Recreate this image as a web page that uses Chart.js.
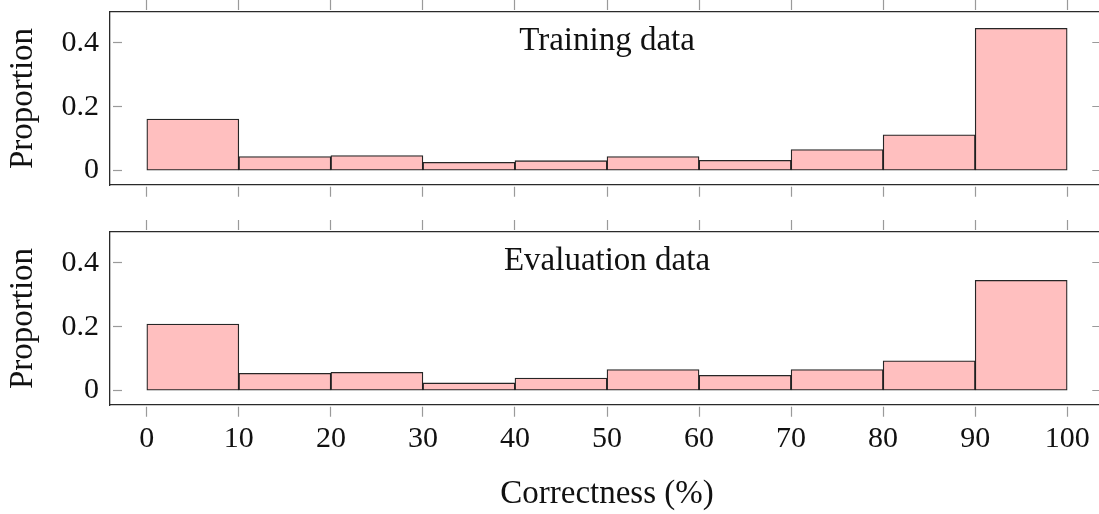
<!DOCTYPE html>
<html>
<head>
<meta charset="utf-8">
<script src="https://cdn.jsdelivr.net/npm/chart.js@4.4.1/dist/chart.umd.min.js"></script>
<style>
html, body { margin: 0; padding: 0; background: #fff; overflow: hidden; }
#wrap { position: relative; width: 1099px; height: 514px; overflow: hidden; background: #fff; }
canvas { position: absolute; left: 0; }
#c1 { top: 0; }
#c2 { top: 220px; }
</style>
</head>
<body>
<div id="wrap">
  <canvas id="c1" width="1110" height="220"></canvas>
  <canvas id="c2" width="1110" height="294"></canvas>
</div>
<script>
// ---- data ----
const binStarts = [0, 10, 20, 30, 40, 50, 60, 70, 80, 90];
const trainingValues = [0.161, 0.044, 0.047, 0.026, 0.031, 0.044, 0.032, 0.066, 0.112, 0.445];
const evaluationValues = [0.208, 0.054, 0.057, 0.024, 0.039, 0.066, 0.048, 0.066, 0.093, 0.345];
const panelTitles = ['Training data', 'Evaluation data'];
const xTickValues = [0, 10, 20, 30, 40, 50, 60, 70, 80, 90, 100];
const xTickLabels = ['0', '10', '20', '30', '40', '50', '60', '70', '80', '90', '100'];
const yTickValues = [0, 0.2, 0.4];
const yTickLabels = ['0', '0.2', '0.4'];
const xAxisTitle = 'Correctness (%)';
const yAxisTitle = 'Proportion';
const xLimits = [-4, 104];
const yLimits = [-0.045, 0.496];

// ---- styling ----
const FONT = "'Liberation Serif', 'Times New Roman', serif";
const BORDER = '#2a2a2a';
const TICK = '#9a9a9a';
const FILL = 'rgb(255,191,191)';
const TEXT = '#111111';

const insideTitle = {
  id: 'insideTitle',
  afterDatasetsDraw(chart, args, opts) {
    const { ctx, chartArea } = chart;
    ctx.save();
    ctx.font = '33px ' + FONT;
    ctx.fillStyle = TEXT;
    ctx.textAlign = 'center';
    ctx.textBaseline = 'alphabetic';
    ctx.fillText(opts.text, (chartArea.left + chartArea.right) / 2, chartArea.top + opts.offset);
    ctx.restore();
  }
};

function fix(prop, size) {
  return s => {
    s[prop] = size;
    s.paddingTop = 0; s.paddingBottom = 0; s.paddingLeft = 0; s.paddingRight = 0;
  };
}
const setXTicks = s => { s.ticks = xTickValues.map(v => ({ value: v })); };
const setYTicks = s => { s.ticks = yTickValues.map(v => ({ value: v })); };

function makePanel(id, title, values, showX, bottomHeight) {
  const binWidth = binStarts[1] - binStarts[0];
  const data = binStarts.map((b, i) => ({ x: b + binWidth / 2, y: values[i] }));
  const border = { display: true, color: BORDER, width: 1.3 };
  return new Chart(document.getElementById(id), {
    type: 'bar',
    data: {
      datasets: [{
        data: data,
        backgroundColor: FILL,
        borderColor: 'rgba(0,0,0,0.85)',
        borderWidth: 1.3,
        borderSkipped: false,
        barPercentage: 1,
        categoryPercentage: 1,
        xAxisID: 'x',
        yAxisID: 'y'
      }]
    },
    plugins: [insideTitle],
    options: {
      responsive: false,
      animation: false,
      devicePixelRatio: 1,
      layout: { autoPadding: false, padding: { left: 0, right: 6, top: 0, bottom: 0 } },
      plugins: {
        legend: { display: false },
        tooltip: { enabled: false },
        insideTitle: { text: title, offset: 38 }
      },
      scales: {
        x: {
          type: 'linear', position: 'bottom', min: xLimits[0], max: xLimits[1], offset: false,
          afterBuildTicks: setXTicks,
          afterFit: fix('height', bottomHeight),
          grid: { offset: false, drawOnChartArea: false, drawTicks: true, tickLength: 12, tickColor: TICK, tickWidth: 1.2, tickBorderDash: [0, 1.5, 10, 100] },
          border: border,
          ticks: {
            display: showX, autoSkip: false, maxRotation: 0, padding: 4, color: TEXT,
            font: { family: FONT, size: 30 },
            callback: v => xTickLabels[xTickValues.indexOf(v)]
          },
          title: { display: showX, text: xAxisTitle, color: TEXT, font: { family: FONT, size: 33, lineHeight: 1.2 }, padding: { top: 0, bottom: 0 } }
        },
        xTop: {
          type: 'linear', axis: 'x', position: 'top', min: xLimits[0], max: xLimits[1], offset: false,
          afterBuildTicks: setXTicks,
          afterFit: fix('height', 12),
          grid: { offset: false, drawOnChartArea: false, drawTicks: true, tickLength: 12, tickColor: TICK, tickWidth: 1.2, tickBorderDash: [10, 100] },
          border: border,
          ticks: { display: false }
        },
        y: {
          type: 'linear', position: 'left', min: yLimits[0], max: yLimits[1],
          afterBuildTicks: setYTicks,
          afterFit: fix('width', 110),
          grid: { drawOnChartArea: false, drawTicks: true, tickLength: -12, tickColor: TICK, tickWidth: 1.2, tickBorderDash: [9, 100] },
          border: border,
          ticks: {
            padding: 23, color: TEXT, font: { family: FONT, size: 30 },
            callback: v => yTickLabels[yTickValues.indexOf(v)]
          },
          title: { display: true, text: yAxisTitle, color: TEXT, font: { family: FONT, size: 33, lineHeight: 1.2 }, padding: { top: 4, bottom: 0 } }
        },
        yRight: {
          type: 'linear', axis: 'y', position: 'right', min: yLimits[0], max: yLimits[1],
          afterBuildTicks: setYTicks,
          afterFit: fix('width', 0),
          grid: { drawOnChartArea: false, drawTicks: true, tickLength: -12, tickColor: TICK, tickWidth: 1.2, tickBorderDash: [0, 3, 9, 100] },
          border: border,
          ticks: { display: false }
        }
      }
    }
  });
}

makePanel('c1', panelTitles[0], trainingValues, false, 35);
makePanel('c2', panelTitles[1], evaluationValues, true, 109);
</script>
</body>
</html>
